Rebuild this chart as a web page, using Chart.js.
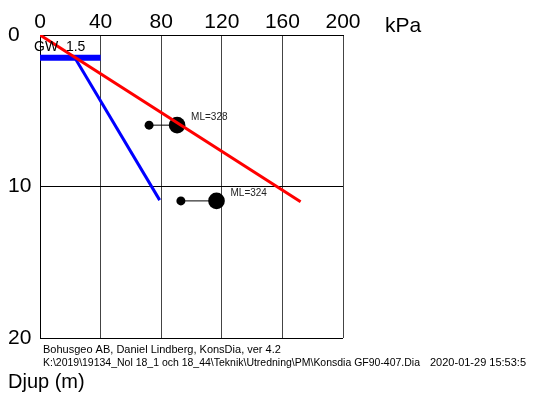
<!DOCTYPE html>
<html>
<head>
<meta charset="utf-8">
<script src="https://cdn.jsdelivr.net/npm/chart.js@4.4.1/dist/chart.umd.min.js"></script>
<style>
	body { margin: 0; background: #fff; }
</style>
</head>
<body>
<canvas id="myChart" width="534" height="396"></canvas>
<script>
// data (kPa against depth in m)
const totalStress = [{ x: 0, y: 0 }, { x: 172, y: 11 }];
const effStress = [{ x: 23, y: 1.5 }, { x: 79, y: 10.9 }];
const gwLevel = 1.5;
const gwBar = [{ x: 0, y: gwLevel }, { x: 40, y: gwLevel }];

const mlDepth = [5.95, 10.95];
const mlLow = [72, 93];
const mlHigh = [90.5, 116.5];
const mlLabels = ['ML=328', 'ML=324'];

const footer1 = 'Bohusgeo AB, Daniel Lindberg, KonsDia, ver 4.2';
const footer2 = 'K:\\2019\\19134_Nol 18_1 och 18_44\\Teknik\\Utredning\\PM\\Konsdia GF90-407.Dia';
const footerDate = '2020-01-29 15:53:5';

const FONT = 'Liberation Sans, Arial, sans-serif';

// connectors between small and big dots
const mlLines = mlDepth.map((d, i) => ({
	type: 'line',
	data: [{ x: mlLow[i], y: d }, { x: mlHigh[i], y: d }],
	borderColor: '#000',
	borderWidth: 1,
	pointRadius: 0,
	showLine: true
}));

const textPlugin = {
	id: 'texts',
	afterDraw(chart) {
		const ctx = chart.ctx;
		const xs = chart.scales.x;
		const ys = chart.scales.y;
		ctx.save();
		ctx.fillStyle = '#000';
		ctx.textBaseline = 'alphabetic';
		ctx.textAlign = 'left';

		// unit
		ctx.font = '21px ' + FONT;
		ctx.fillText('kPa', xs.getPixelForValue(200) + 42, 32);

		// ground water
		ctx.font = '14px ' + FONT;
		ctx.fillText('GW  1.5', xs.getPixelForValue(0) - 6, ys.getPixelForValue(gwLevel) - 7);

		// ML labels
		ctx.font = '10px ' + FONT;
		ctx.fillStyle = '#222';
		mlLabels.forEach((t, i) => {
			ctx.fillText(t, xs.getPixelForValue(mlHigh[i]) + 14, ys.getPixelForValue(mlDepth[i]) - 5);
		});

		// footer
		ctx.fillStyle = '#000';
		ctx.font = '11px ' + FONT;
		ctx.fillText(footer1, 43, 353, 239);
		ctx.fillText(footer2, 43, 366, 377);
		ctx.fillText(footerDate, 430, 366);

		ctx.font = '20px ' + FONT;
		ctx.fillText('Djup (m)', 8, 388);
		ctx.restore();
	}
};

const config = {
	type: 'scatter',
	data: {
		datasets: [
			{
				data: totalStress,
				borderColor: '#ff0000',
				borderWidth: 3,
				pointRadius: 0,
				showLine: true
			},
			{
				data: effStress,
				borderColor: '#0000ff',
				borderWidth: 3,
				pointRadius: 0,
				showLine: true
			},
			{
				data: gwBar,
				borderColor: '#0000ff',
				borderWidth: 6,
				borderCapStyle: 'butt',
				pointRadius: 0,
				showLine: true
			},
			...mlLines,
			{
				data: mlDepth.map((d, i) => ({ x: mlLow[i], y: d })),
				backgroundColor: '#000',
				borderWidth: 0,
				pointRadius: 4.5
			},
			{
				data: mlDepth.map((d, i) => ({ x: mlHigh[i], y: d })),
				backgroundColor: '#000',
				borderWidth: 0,
				pointRadius: 8.3
			}
		]
	},
	options: {
		responsive: false,
		animation: false,
		layout: { padding: { left: 8, top: 0, right: 191, bottom: 58 } },
		plugins: { legend: { display: false }, tooltip: { enabled: false } },
		scales: {
			x: {
				type: 'linear',
				position: 'top',
				min: 0,
				max: 200,
				afterFit: s => { s.height = 35; },
				ticks: {
					stepSize: 40,
					padding: 0,
					color: '#000',
					font: { family: FONT, size: 21 }
				},
				grid: { color: '#444', drawTicks: false },
				border: { color: '#000' }
			},
			y: {
				type: 'linear',
				reverse: true,
				min: 0,
				max: 20,
				afterFit: s => { s.width = 32; },
				ticks: {
					stepSize: 10,
					crossAlign: 'far',
					color: '#000',
					font: { family: FONT, size: 21 }
				},
				grid: { color: '#000', drawTicks: false },
				border: { color: '#000' }
			}
		}
	},
	plugins: [textPlugin]
};

const myChart = new Chart(document.getElementById('myChart'), config);
</script>
</body>
</html>
